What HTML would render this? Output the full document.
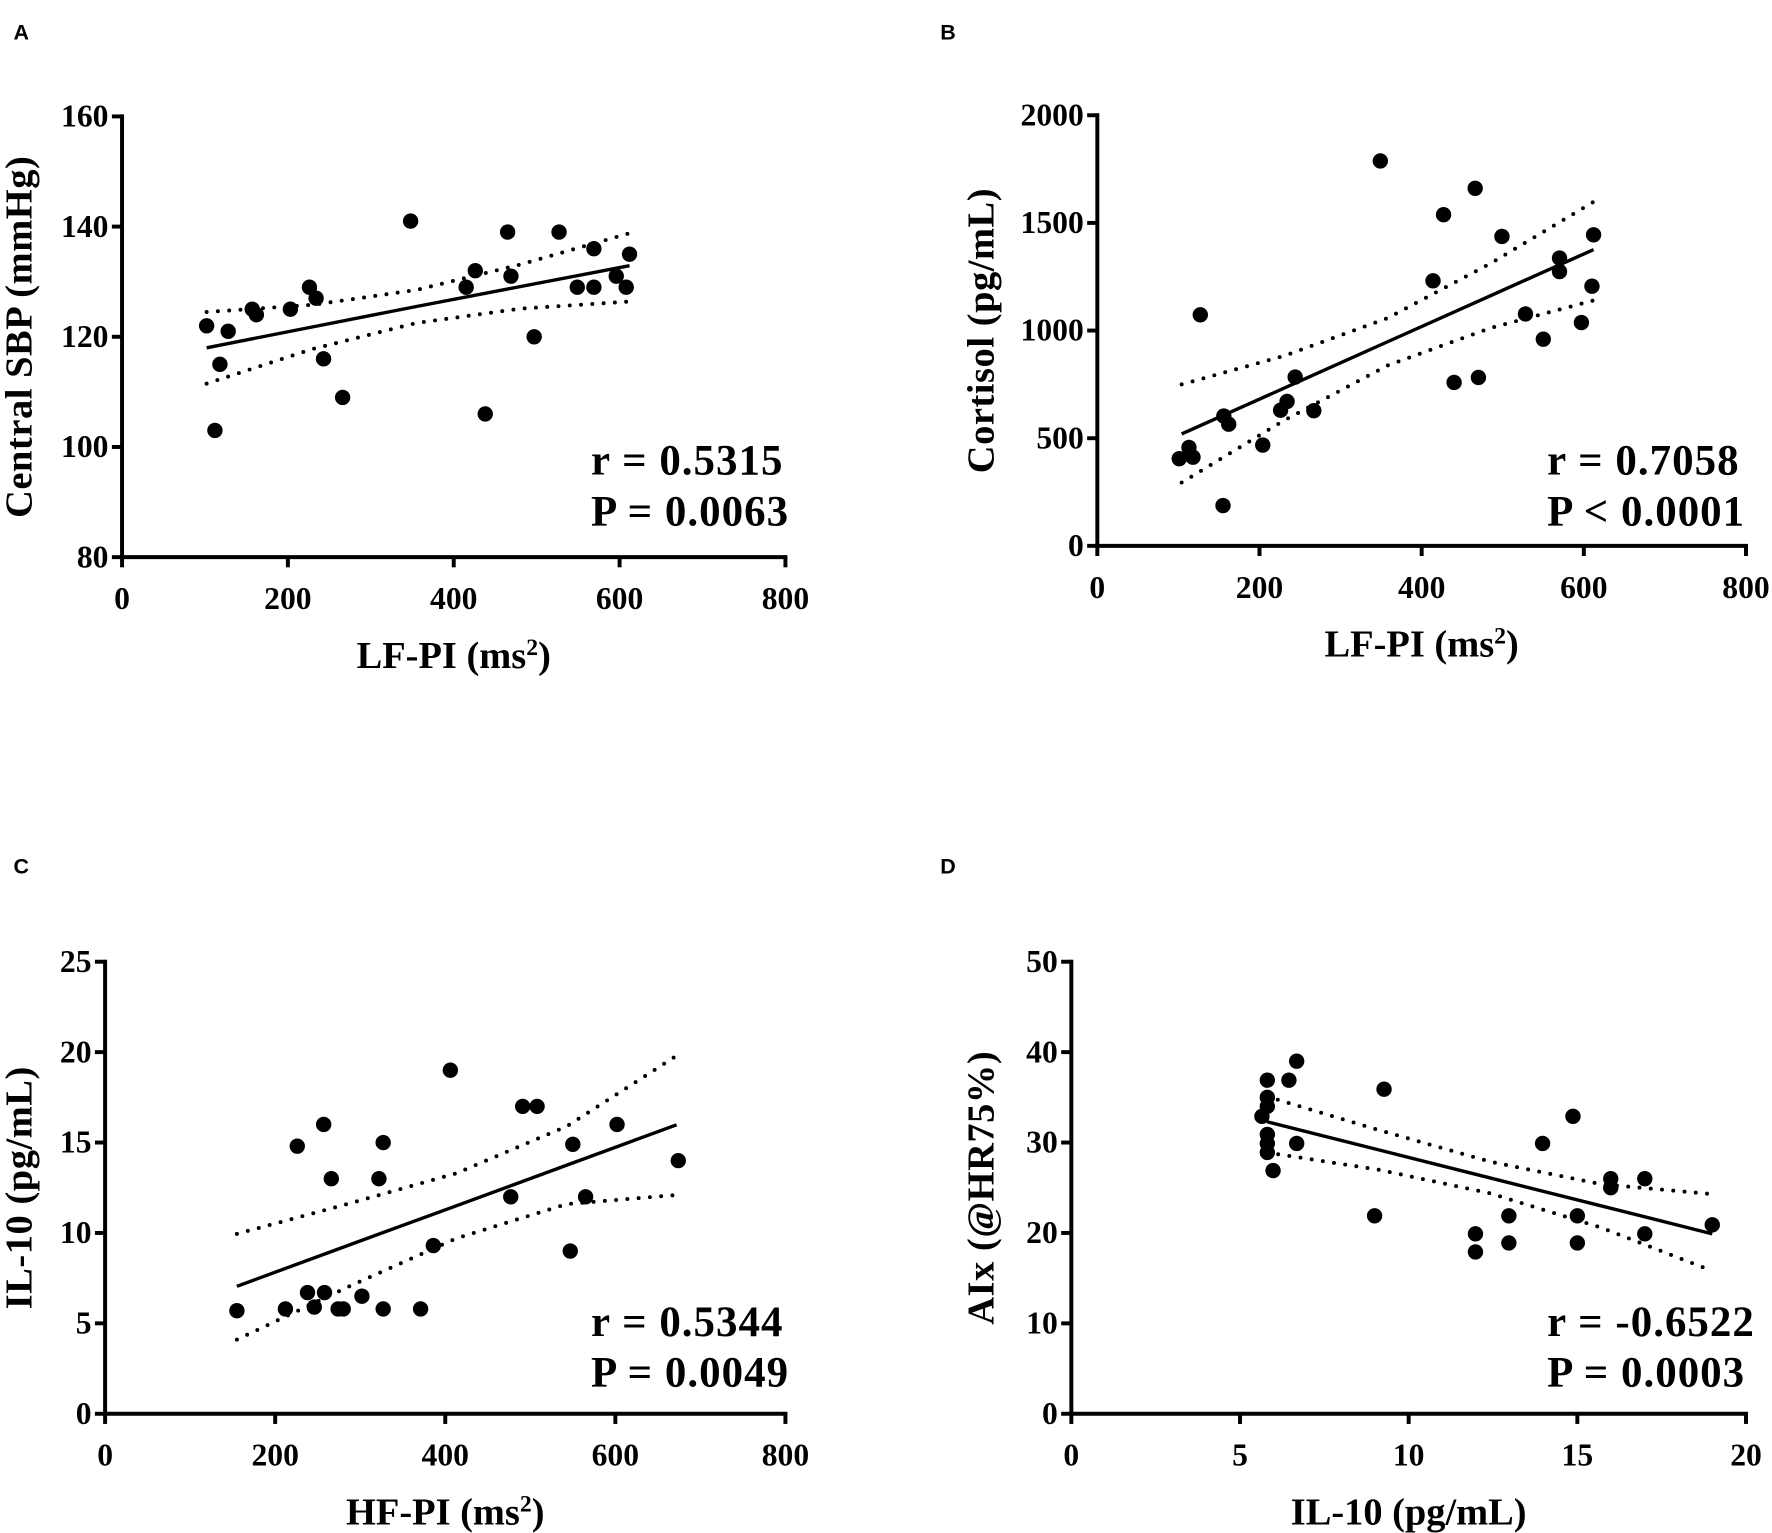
<!DOCTYPE html>
<html><head><meta charset="utf-8"><style>
html,body{margin:0;padding:0;background:#fff;}
svg{display:block;}
text{font-family:"Liberation Serif",serif;font-weight:bold;fill:#000;}
.lt{font-family:"Liberation Sans",sans-serif;font-weight:bold;font-size:19px;}
</style></head><body>
<svg id="fig" width="1772" height="1533" viewBox="0 0 1568 1356.5" xmlns="http://www.w3.org/2000/svg"></svg>
<script>
// Panel A
const aX=[102,112,118,128,157,162,203,226,234,243,266,348,415,426,438,465,469,497,527,549,569,569,596,608,612];
const aY=[122,103,115,121,125,124,125,129,127,116,109,141,129,132,106,139,131,120,139,129,136,129,131,129,135];
const aBandX=[102,230,355,480,612];
const aLine=[118,121.8,125.5,129.1,132.9];
const aUp=[124.5,125.8,128.5,133.1,138.8];
const aLo=[111.5,117.8,122.5,125.1,126.4];
const aXTicks=[0,200,400,600,800];
const aYTicks=[80,100,120,140,160];
// Panel B
const bX=[101,113,118,127,155,156,162,204,226,234,244,267,349,414,427,440,466,470,499,528,550,570,570,597,610,612];
const bY=[405,457,412,1073,187,603,565,468,630,671,784,628,1788,1231,1538,759,1661,782,1437,1077,960,1337,1274,1037,1206,1445];
const bBandX=[104,230,358,485,612];
const bLine=[520,732,948,1162,1376];
const bUp=[750,882,1058,1312,1598];
const bLo=[294,582,838,1012,1140];
const bXTicks=[0,200,400,600,800];
const bYTicks=[0,500,1000,1500,2000];
// Panel C
const cX=[155,212,226,238,246,257,258,266,274,280,302,322,327,327,371,386,406,477,491,508,547,550,565,602,674];
const cY=[5.7,5.8,14.8,6.7,5.9,16.0,6.7,13.0,5.8,5.8,6.5,13.0,15.0,5.8,5.8,9.3,19.0,12.0,17.0,17.0,9.0,14.9,12.0,16.0,14.0];
const cBandX=[155,285,413,543,672];
const cLine=[7.05,9.3,11.5,13.75,15.98];
const cUp=[9.95,11.6,13.3,15.9,19.8];
const cLo=[4.1,7.0,9.7,11.6,12.1];
const cXTicks=[0,200,400,600,800];
const cYTicks=[0,5,10,15,20,25];
// Panel D
const dX=[5.65,5.81,5.81,5.81,5.81,5.81,5.81,5.98,6.45,6.68,6.68,8.99,9.27,11.98,11.98,12.97,12.97,13.97,14.87,15.0,15.0,15.99,15.99,17.0,17.0,19.0];
const dY=[32.9,36.9,35.0,34.0,30.9,29.9,28.9,26.9,36.9,39.0,29.9,21.9,35.9,19.9,17.9,21.9,18.9,29.9,32.9,21.9,18.9,26,25,26,19.9,20.9];
const dBandX=[5.8,9.1,12.4,15.7,19];
const dLine=[32.3,29.2,26.1,23.0,19.9];
const dUp=[35.1,31.4,27.9,25.4,24.3];
const dLo=[28.9,27.0,24.4,20.6,15.8];
const dXTicks=[0,5,10,15,20];
const dYTicks=[0,10,20,30,40,50];

const NS="http://www.w3.org/2000/svg";
const svg=document.getElementById('fig');
function mk(tag,attrs,parent,txt){const e=document.createElementNS(NS,tag);for(const k in attrs)e.setAttribute(k,attrs[k]);if(txt!==undefined)e.textContent=txt;(parent||svg).appendChild(e);return e;}

function panel(p){
  const g=mk('g',{});
  
  
  const xMin=p.xt[0],xMax=p.xt[p.xt.length-1],yMin=p.yt[0],yMax=p.yt[p.yt.length-1];
  const sx=v=>p.x0+(v-xMin)/(xMax-xMin)*(p.x1-p.x0);
  const sy=v=>p.y0-(v-yMin)/(yMax-yMin)*(p.y0-p.y1);
  const lt=mk('text',{x:p.lx,y:p.ly,class:'lt'},g,p.id);
  
  
  const ax=mk('path',{d:`M${p.x0} ${p.y1}V${p.y0}H${p.x1}`,fill:'none',stroke:'#000','stroke-width':3.5,'stroke-linecap':'square'},g);
  
  
  p.xt.forEach(v=>{
    const X=sx(v);
    mk('line',{x1:X,x2:X,y1:p.y0,y2:p.y0+9,stroke:'#000','stroke-width':3.5},g);
    const t=mk('text',{x:X,y:p.y0+46,'text-anchor':'middle','font-size':28},g,v);
    
    
  });
  p.yt.forEach(v=>{
    const Y=sy(v);
    mk('line',{x1:p.x0-9,x2:p.x0,y1:Y,y2:Y,stroke:'#000','stroke-width':3.5},g);
    const t=mk('text',{x:p.x0-12,y:Y+9,'text-anchor':'end','font-size':28},g,v);
    
    
  });
  const xt=mk('text',{x:(p.x0+p.x1)/2,y:p.y0+98,'text-anchor':'middle','font-size':34},g);
  
  
  xt.innerHTML=p.xtitle;
  const cy=(p.y0+p.y1)/2;
  const yt=mk('text',{x:p.ytx,y:cy,'text-anchor':'middle','font-size':34,'letter-spacing':0.5,transform:`rotate(-90 ${p.ytx} ${cy})`},g,p.ytitle);
  
  
  const pts=a=>p.bx.map((v,i)=>sx(v)+','+sy(a[i])).join(' ');
  const l=mk('polyline',{points:pts(p.line),fill:'none',stroke:'#000','stroke-width':3},g);
  
  
  [p.up,p.lo].forEach((a,k)=>{
    const b=mk('polyline',{points:pts(a),fill:'none',stroke:'#000','stroke-width':3.5,'stroke-dasharray':'0 10','stroke-linecap':'round'},g);
    
    
  });
  p.px.forEach((v,i)=>{
    const c=mk('circle',{cx:sx(v),cy:sy(p.py[i]),r:6.8,fill:'#000'},g);
    
    
  });
  const s1=mk('text',{x:p.sx,y:p.sy,'font-size':38,'letter-spacing':0.9},g,p.s1);
  
  
  const s2=mk('text',{x:p.sx,y:p.sy+45,'font-size':38,'letter-spacing':0.9},g,p.s2);
  
  
}
const ms='(ms<tspan baseline-shift="super" font-size="21">2</tspan>)';
panel({id:'A',lx:12,ly:35,x0:108,x1:695,y0:493,y1:103,xt:aXTicks,yt:aYTicks,px:aX,py:aY,bx:aBandX,line:aLine,up:aUp,lo:aLo,xtitle:'LF-PI '+ms,ytitle:'Central SBP (mmHg)',ytx:28,sx:523,sy:420,s1:'r = 0.5315',s2:'P = 0.0063'});
panel({id:'B',lx:832,ly:35,x0:971,x1:1545,y0:483,y1:102,xt:bXTicks,yt:bYTicks,px:bX,py:bY,bx:bBandX,line:bLine,up:bUp,lo:bLo,xtitle:'LF-PI '+ms,ytitle:'Cortisol (pg/mL)',ytx:879,sx:1369,sy:420,s1:'r = 0.7058',s2:'P < 0.0001'});
panel({id:'C',lx:12,ly:773,x0:93,x1:695,y0:1251,y1:851,xt:cXTicks,yt:cYTicks,px:cX,py:cY,bx:cBandX,line:cLine,up:cUp,lo:cLo,xtitle:'HF-PI '+ms,ytitle:'IL-10 (pg/mL)',ytx:28,sx:523,sy:1182,s1:'r = 0.5344',s2:'P = 0.0049'});
panel({id:'D',lx:832,ly:773,x0:948,x1:1545,y0:1251,y1:851,xt:dXTicks,yt:dYTicks,px:dX,py:dY,bx:dBandX,line:dLine,up:dUp,lo:dLo,xtitle:'IL-10 (pg/mL)',ytitle:'AIx (@HR75%)',ytx:879,sx:1369,sy:1182,s1:'r = -0.6522',s2:'P = 0.0003'});
</script>
</body></html>
